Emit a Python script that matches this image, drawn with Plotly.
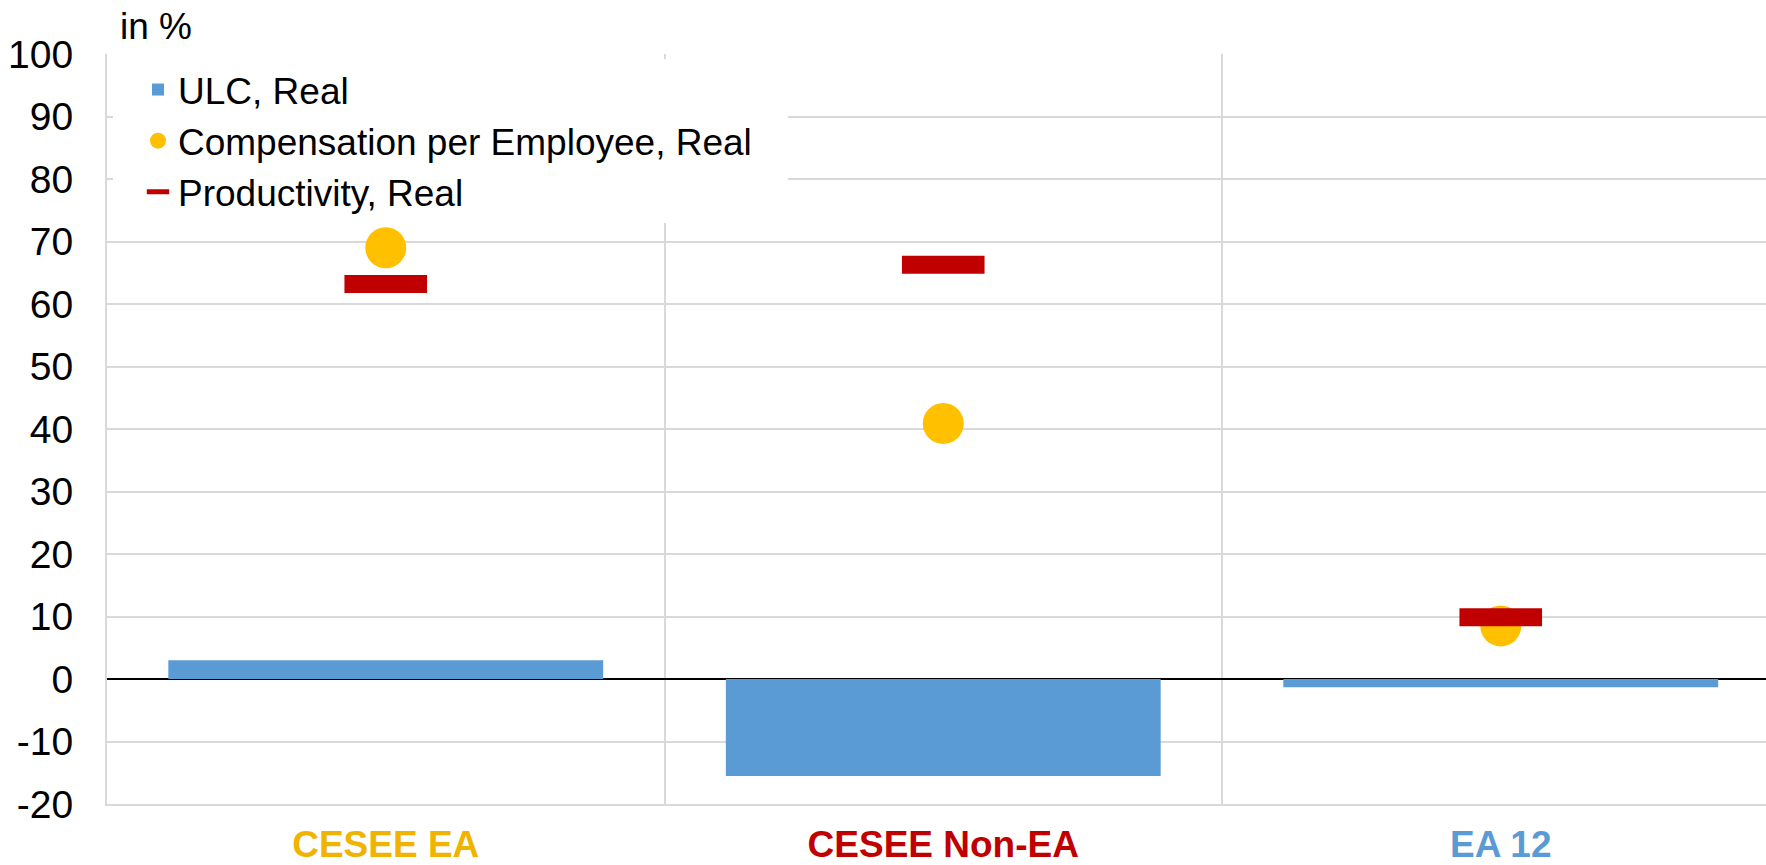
import plotly.graph_objects as go

categories = ["CESEE EA", "CESEE Non-EA", "EA 12"]
category_colors = ["#F0B400", "#C00000", "#5B9BD5"]
ulc_real = [3.0, -15.5, -1.3]
comp_per_employee_real = [69.0, 40.9, 8.5]
productivity_real = [63.2, 66.3, 9.9]
y_ticks = list(range(-20, 101, 10))
y_tick_labels = [str(v) for v in y_ticks]

FONT = "Liberation Sans, Arial, sans-serif"
W, H = 1766, 865
ML, MR, MT, MB = 107, 0, 54, 61
plot_w = W - ML - MR
plot_h = H - MT - MB
cat_px = 557.5
x_max = -0.5 + plot_w / cat_px

fig = go.Figure()
fig.add_trace(go.Bar(
    x=categories, y=ulc_real, name="ULC, Real",
    marker=dict(color="#5B9BD5", line=dict(width=0)),
    width=0.78, legendgroup="a",
))
fig.add_trace(go.Scatter(
    x=categories, y=comp_per_employee_real,
    name="Compensation per Employee, Real\u00a0\u00a0\u00a0",
    mode="markers", marker=dict(symbol="circle", size=41, color="#FFC000", line=dict(width=0)),
    legendgroup="b",
))
fig.add_trace(go.Scatter(
    x=categories, y=productivity_real, name="Productivity, Real",
    mode="markers", marker=dict(symbol="line-ew", size=59, color="#C00000",
                                line=dict(width=18, color="#C00000")),
    legendgroup="c",
))

ticktext = [f"<b><span style='color:{c}'>{t}</span></b>" for t, c in zip(categories, category_colors)]

fig.update_layout(
    width=W, height=H,
    margin=dict(l=ML, r=MR, t=MT, b=MB, pad=0, autoexpand=False),
    paper_bgcolor="white", plot_bgcolor="white",
    font=dict(family=FONT, size=38, color="black"),
    showlegend=True,
    legend=dict(
        x=(113 - ML) / plot_w, y=(plot_h - 5) / plot_h, xanchor="left", yanchor="top",
        bgcolor="white", borderwidth=0, itemsizing="trace", indentation=25,
        font=dict(size=37, color="black"), tracegroupgap=0,
    ),
    xaxis=dict(
        type="category", range=[-0.5, x_max], tickvals=categories, ticktext=ticktext,
        tickson="boundaries", showgrid=True, gridcolor="#D9D9D9", gridwidth=2,
        ticks="", showline=True, linecolor="#D9D9D9", linewidth=2,
        tickfont=dict(size=37), ticklabelstandoff=7, automargin=False,
    ),
    yaxis=dict(
        range=[-20, 100], tickvals=y_ticks, ticktext=y_tick_labels,
        showgrid=True, gridcolor="#D9D9D9", gridwidth=2,
        zeroline=True, zerolinecolor="black", zerolinewidth=2,
        showline=True, linecolor="#D9D9D9", linewidth=2, ticks="",
        tickfont=dict(size=39), ticklabelstandoff=24, automargin=False,
    ),
    annotations=[dict(
        text="in %", xref="paper", yref="paper", x=11 / plot_w, y=(plot_h + 27) / plot_h,
        xanchor="left", yanchor="middle", showarrow=False, font=dict(size=37),
    )],
)

fig.write_html(
    "out.html",
    config={"displayModeBar": False},
    post_script="document.body.style.margin='0';document.body.style.overflow='hidden';",
)
